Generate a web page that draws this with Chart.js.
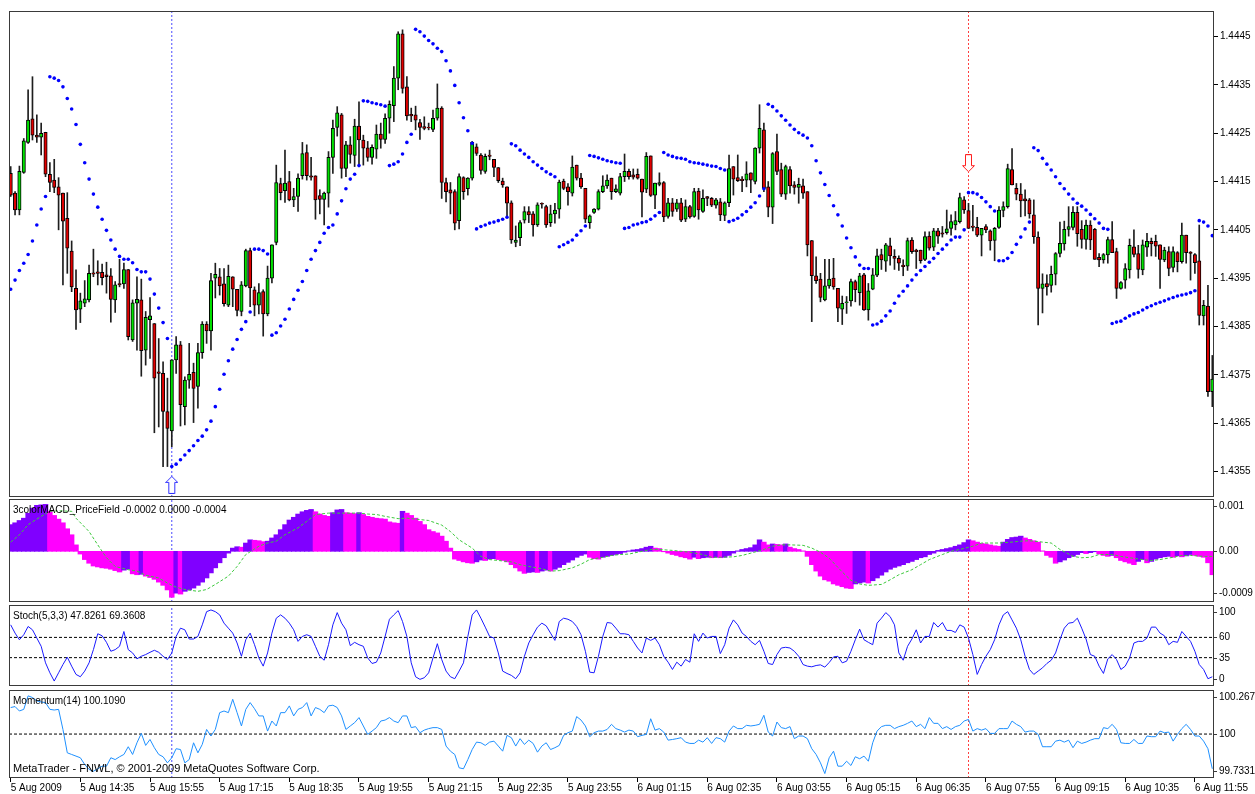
<!DOCTYPE html>
<html>
<head>
<meta charset="utf-8">
<title>EURUSD,M5</title>
<script src="https://cdn.jsdelivr.net/npm/chart.js@4.4.1/dist/chart.umd.min.js"></script>
<style>
  html, body { margin: 0; padding: 0; background: #fff; }
  #wrap { position: relative; width: 1255px; height: 794px; overflow: hidden; }
  #wrap canvas { position: absolute; left: 0; }
</style>
</head>
<body>
<div id="wrap">
  <canvas id="price" width="1255" height="504" style="top:0"></canvas>
  <canvas id="macdPane" width="1255" height="105" style="top:498px"></canvas>
  <canvas id="stochPane" width="1255" height="85" style="top:603px"></canvas>
  <canvas id="momPane" width="1255" height="106" style="top:688px"></canvas>
</div>
<script>
// M5 bars, 5 Aug 2009 13:15 -> 6 Aug 2009 12:15 (bar 1 .. bar 277)
const open = [
1.44167,1.44126,1.44091,1.44169,1.44231,1.4428,1.44246,1.44242,1.44252,1.44165,
1.44153,1.44139,1.44126,1.44074,1.44006,1.43929,1.43886,1.43898,1.43905,1.43961,
1.43963,1.43962,1.43957,1.43955,1.43905,1.43939,1.43938,1.43968,1.43822,1.43898,
1.43905,1.43801,1.43864,1.43856,1.43756,1.43753,1.43674,1.43634,1.43781,1.43812,
1.43684,1.43739,1.43755,1.43726,1.43796,1.43855,1.43841,1.4395,1.43953,1.43938,
1.43894,1.43953,1.43927,1.43881,1.43934,1.44007,1.43926,1.43894,1.43922,1.43876,
1.4395,1.44024,1.44146,1.44131,1.4415,1.44112,1.44119,1.44162,1.4421,1.44162,
1.44162,1.44121,1.44113,1.44126,1.442,1.44262,1.44288,1.44177,1.44226,1.44204,
1.44265,1.44236,1.4422,1.442,1.44217,1.44248,1.44237,1.44281,1.44307,1.44364,
1.44456,1.44346,1.44289,1.44288,1.44272,1.44264,1.44262,1.44258,1.44281,1.44302,
1.44148,1.44133,1.44129,1.44069,1.44158,1.44135,1.44157,1.44222,1.44205,1.44171,
1.44205,1.44196,1.44179,1.44151,1.44139,1.44106,1.44024,1.44034,1.4407,1.44088,
1.44083,1.4406,1.44105,1.44098,1.44065,1.44083,1.44093,1.44151,1.44139,1.44126,
1.44184,1.44157,1.44136,1.44065,1.44086,1.44093,1.44129,1.44141,1.44157,1.44129,
1.44126,1.4416,1.44171,1.44164,1.44165,1.44155,1.44134,1.44203,1.44122,1.44144,
1.44148,1.44078,1.44106,1.44093,1.44106,1.44072,1.44098,1.44078,1.4413,1.44088,
1.44119,1.44115,1.44101,1.44108,1.4408,1.44106,1.44181,1.44158,1.44155,1.44153,
1.44168,1.4415,1.44219,1.44257,1.44139,1.44097,1.44212,1.44175,1.44124,1.44175,
1.44143,1.44138,1.44141,1.44129,1.44028,1.43955,1.43948,1.43905,1.43934,1.4395,
1.43929,1.43886,1.43899,1.43903,1.43943,1.4392,1.43957,1.43884,1.43927,1.43956,
1.43999,1.43985,1.44017,1.43995,1.43991,1.43977,1.43975,1.44029,1.44008,1.44008,
1.43989,1.44037,1.44014,1.44048,1.44044,1.44044,1.44053,1.4406,1.44067,1.44112,
1.4409,1.44058,1.44055,1.44039,1.44057,1.44048,1.44028,1.44055,1.4409,1.44098,
1.44175,1.44136,1.44124,1.44114,1.44112,1.44081,1.44035,1.43929,1.43939,1.43935,
1.43958,1.44001,1.44021,1.44051,1.44055,1.44086,1.44051,1.4403,1.4406,1.44051,
1.43993,1.43988,1.43998,1.4403,1.44005,1.43929,1.43946,1.43967,1.44015,1.44001,
1.43967,1.44014,1.44026,1.44026,1.44019,1.43988,1.44005,1.43972,1.44003,1.43984,
1.44039,1.44004,1.43999,1.43986,1.43872,1.43892,1.43715];
const high = [
1.44181,1.44129,1.44182,1.44239,1.4434,1.44367,1.44288,1.44271,1.44252,1.44189,
1.44196,1.44158,1.44126,1.44127,1.44027,1.43967,1.43919,1.43945,1.43977,1.4401,
1.43986,1.43979,1.43983,1.4397,1.43943,1.43989,1.43981,1.43968,1.43905,1.43953,
1.43948,1.43881,1.4391,1.43856,1.43825,1.43777,1.43743,1.43781,1.43829,1.43819,
1.43746,1.43815,1.43774,1.43815,1.4386,1.4386,1.4396,1.43981,1.4397,1.4397,
1.43977,1.43953,1.43927,1.43943,1.4401,1.44012,1.43932,1.43939,1.43926,1.43975,
1.44019,1.44184,1.44157,1.44215,1.44171,1.44136,1.44166,1.44231,1.44226,1.442,
1.44162,1.44133,1.44128,1.44212,1.44277,1.44305,1.44291,1.44233,1.44243,1.44279,
1.44315,1.44246,1.44233,1.44226,1.44267,1.44271,1.4429,1.44317,1.44388,1.4446,
1.44464,1.44367,1.44302,1.44306,1.44279,1.44284,1.44271,1.44298,1.44352,1.44305,
1.44157,1.44148,1.44133,1.44166,1.4416,1.44158,1.44233,1.44228,1.44208,1.44207,
1.44215,1.44196,1.44179,1.44157,1.44139,1.4411,1.44058,1.44069,1.44098,1.44098,
1.44088,1.44106,1.44106,1.44101,1.44101,1.44105,1.44153,1.44155,1.44146,1.44203,
1.44184,1.44167,1.44136,1.44081,1.44094,1.44133,1.44162,1.44164,1.44157,1.44143,
1.44167,1.44207,1.44176,1.44176,1.44176,1.44155,1.4421,1.44203,1.44147,1.44168,
1.4415,1.44115,1.44115,1.44113,1.44115,1.44112,1.44101,1.44136,1.44136,1.44133,
1.44119,1.44117,1.44115,1.44115,1.44108,1.44205,1.44181,1.44205,1.4416,1.44191,
1.44168,1.4422,1.44309,1.44271,1.4415,1.4421,1.44248,1.44188,1.44184,1.44181,
1.4415,1.44157,1.44155,1.44129,1.44028,1.43994,1.4396,1.43989,1.43989,1.43991,
1.43929,1.43913,1.43912,1.43948,1.43946,1.4396,1.4396,1.43939,1.4397,1.4401,
1.4401,1.44022,1.44033,1.44009,1.43996,1.43988,1.44033,1.44034,1.4401,1.44008,
1.44046,1.44046,1.44053,1.44053,1.44057,1.44091,1.44081,1.44088,1.44126,1.44119,
1.44105,1.44101,1.44076,1.44053,1.44061,1.4405,1.44055,1.44098,1.44108,1.44186,
1.44218,1.44146,1.44146,1.44133,1.44115,1.44112,1.44046,1.43959,1.43957,1.43975,
1.44003,1.44066,1.44068,1.44098,1.44098,1.44098,1.44069,1.4407,1.44069,1.44053,
1.44001,1.44001,1.44035,1.44067,1.44012,1.43943,1.4398,1.44031,1.4405,1.44018,
1.44029,1.44043,1.44033,1.44039,1.44019,1.44014,1.44015,1.44015,1.44005,1.44064,
1.44039,1.44005,1.44001,1.4406,1.43904,1.43935,1.4379];
const low = [
1.44119,1.44081,1.44081,1.44167,1.44229,1.44236,1.44231,1.44205,1.4416,1.44129,
1.44127,1.4405,1.43936,1.4396,1.43922,1.43844,1.43858,1.43891,1.43901,1.43953,
1.43936,1.43936,1.43919,1.43859,1.43879,1.43932,1.43929,1.43822,1.43819,1.43801,
1.43747,1.4377,1.43784,1.4363,1.43642,1.4356,1.4356,1.43601,1.43753,1.43644,
1.43646,1.43722,1.43651,1.43681,1.43784,1.43815,1.43801,1.43909,1.43915,1.43892,
1.43891,1.43891,1.43872,1.43872,1.43932,1.43891,1.43872,1.43876,1.4383,1.43872,
1.4394,1.44019,1.44112,1.44107,1.4411,1.44098,1.44088,1.44155,1.44153,1.44153,
1.44072,1.44083,1.4406,1.44097,1.44167,1.44244,1.44157,1.4416,1.44188,1.44181,
1.44181,1.44184,1.44192,1.44186,1.44198,1.44219,1.44229,1.4425,1.44274,1.4434,
1.44333,1.44277,1.44274,1.44257,1.44237,1.44257,1.44257,1.44253,1.44277,1.44115,
1.44108,1.44083,1.4405,1.44052,1.44113,1.44122,1.44153,1.44204,1.44165,1.44167,
1.44195,1.4416,1.44148,1.44138,1.44077,1.44022,1.44015,1.44017,1.44064,1.44065,
1.44037,1.44057,1.44095,1.44055,1.44057,1.44064,1.44074,1.44133,1.44101,1.4412,
1.44153,1.44136,1.44065,1.44053,1.44084,1.44091,1.44127,1.44136,1.44113,1.44127,
1.44122,1.4415,1.44155,1.44155,1.44155,1.44077,1.44127,1.44119,1.44094,1.44141,
1.44067,1.44074,1.44078,1.44088,1.44067,1.44067,1.44074,1.44076,1.44072,1.44086,
1.441,1.44098,1.44095,1.44069,1.44069,1.44098,1.44122,1.4415,1.44129,1.44139,
1.44127,1.44145,1.44209,1.44129,1.44077,1.44063,1.44164,1.44119,1.44113,1.44126,
1.44124,1.44105,1.44115,1.43996,1.4386,1.43939,1.43901,1.43903,1.43929,1.43927,
1.4386,1.43854,1.43877,1.43892,1.43901,1.43894,1.43883,1.43863,1.43926,1.43953,
1.43968,1.43964,1.43977,1.43968,1.43966,1.43955,1.43966,1.44001,1.4397,1.43981,
1.43986,1.44008,1.44007,1.44022,1.44035,1.44041,1.44039,1.4405,1.44064,1.44084,
1.44053,1.44048,1.44036,1.43996,1.44044,1.44008,1.43986,1.44053,1.44077,1.44095,
1.44143,1.44112,1.44077,1.44079,1.44074,1.44022,1.43853,1.43878,1.43915,1.43921,
1.43936,1.43994,1.44008,1.44037,1.4405,1.44016,1.44012,1.4401,1.44009,1.43989,
1.43974,1.43981,1.43981,1.44003,1.43908,1.43927,1.43929,1.4395,1.43994,1.4395,
1.43957,1.43995,1.43996,1.43995,1.43929,1.43984,1.43955,1.43963,1.43963,1.43981,
1.43981,1.43946,1.4396,1.43853,1.43853,1.43705,1.43684];
const close = [
1.44122,1.44091,1.44171,1.44234,1.44277,1.44246,1.44242,1.4425,1.44165,1.44148,
1.44138,1.44122,1.44068,1.44012,1.43932,1.43884,1.43903,1.43907,1.4396,1.43958,
1.4396,1.43951,1.43953,1.43906,1.43936,1.43936,1.43968,1.43829,1.43899,1.43906,
1.438,1.43869,1.43872,1.43743,1.43753,1.43674,1.43639,1.43781,1.43812,1.43688,
1.43739,1.43751,1.43722,1.43796,1.43855,1.43841,1.43945,1.43958,1.43934,1.43897,
1.43954,1.43927,1.43883,1.43936,1.44007,1.4393,1.43894,1.4392,1.43876,1.4395,
1.44019,1.44148,1.44127,1.44147,1.44112,1.44119,1.44157,1.44208,1.44162,1.44159,
1.44112,1.44113,1.44126,1.442,1.4426,1.44292,1.44177,1.44226,1.44206,1.44265,
1.44236,1.44219,1.442,1.44221,1.44248,1.44237,1.44281,1.4431,1.44364,1.44456,
1.44343,1.44286,1.44286,1.44277,1.44262,1.4426,1.44261,1.44281,1.44302,1.44148,
1.44129,1.44126,1.44064,1.4416,1.44129,1.44157,1.44231,1.44208,1.44173,1.44202,
1.44202,1.44179,1.44152,1.44143,1.44105,1.44029,1.44029,1.44065,1.44088,1.44081,
1.4406,1.44102,1.44103,1.4406,1.44083,1.44091,1.44149,1.44136,1.44129,1.4418,
1.44157,1.44139,1.44072,1.44079,1.44093,1.44129,1.44141,1.44153,1.44129,1.44135,
1.4416,1.44171,1.4416,1.44159,1.44157,1.44128,1.44202,1.44121,1.44147,1.44148,
1.44077,1.44106,1.44088,1.44106,1.4407,1.44098,1.44077,1.44129,1.44091,1.44115,
1.44115,1.44101,1.44112,1.44081,1.44106,1.44177,1.44155,1.44152,1.44152,1.44166,
1.44153,1.44219,1.4426,1.44136,1.44097,1.44208,1.44171,1.44124,1.44181,1.44141,
1.44138,1.44144,1.44126,1.44019,1.43955,1.43945,1.4391,1.43934,1.43948,1.43932,
1.43888,1.43898,1.43901,1.43943,1.43926,1.43955,1.43884,1.43924,1.43957,1.43996,
1.43988,1.44019,1.43996,1.43991,1.43981,1.43974,1.44028,1.44005,1.44005,1.43986,
1.44036,1.44012,1.44048,1.44037,1.44041,1.44052,1.44067,1.44069,1.44117,1.44091,
1.44053,1.44055,1.44039,1.44053,1.4405,1.44027,1.44053,1.44091,1.44098,1.44177,
1.44143,1.44124,1.4411,1.4411,1.44083,1.44036,1.43929,1.43938,1.43932,1.43958,
1.44001,1.44022,1.44051,1.44057,1.44086,1.44042,1.4403,1.4406,1.44029,1.43989,
1.43988,1.43999,1.4403,1.44003,1.43929,1.43941,1.4397,1.44018,1.43999,1.43968,
1.44019,1.44026,1.44021,1.44016,1.43989,1.44008,1.4397,1.44005,1.43984,1.44039,
1.44003,1.44001,1.43982,1.43873,1.43894,1.43715,1.43741];
// Parabolic SAR, one dot per bar
const sar = [
1.43927,1.43946,1.43966,1.43981,1.43999,1.44027,1.4406,1.44093,1.44119,1.44367,
1.44364,1.44359,1.44346,1.44322,1.443,1.44268,1.44227,1.44189,1.44155,1.44124,
1.44097,1.44072,1.44049,1.44029,1.4401,1.43995,1.43989,1.43989,1.43982,1.43968,
1.43963,1.43963,1.43948,1.43917,1.43888,1.43858,1.43825,1.4356,1.43565,1.43574,
1.43584,1.43593,1.43603,1.43614,1.43623,1.43636,1.43654,1.43684,1.4372,1.43751,
1.43779,1.43803,1.43823,1.43844,1.4386,1.4388,1.4401,1.4401,1.44007,1.44,
1.43832,1.43837,1.43851,1.43865,1.43886,1.43906,1.43925,1.43943,1.43966,1.43989,
1.44007,1.44024,1.44043,1.44055,1.4406,1.44083,1.4411,1.44135,1.44155,1.44165,
1.44183,1.44317,1.44316,1.44313,1.44311,1.44309,1.44306,1.44183,1.44186,1.44191,
1.44207,1.44231,1.44248,1.44465,1.4446,1.44451,1.44442,1.44435,1.44426,1.44419,
1.444,1.44379,1.44349,1.44313,1.44282,1.44255,1.44229,1.44052,1.44057,1.4406,
1.44064,1.44066,1.44069,1.44072,1.44076,1.44228,1.44224,1.44215,1.44207,1.442,
1.44191,1.44184,1.44177,1.4417,1.44165,1.4416,1.44015,1.44019,1.44024,1.44029,
1.44039,1.44048,1.44058,1.44204,1.44202,1.44199,1.44196,1.44193,1.44191,1.44189,
1.44188,1.44053,1.44055,1.4406,1.44062,1.44065,1.44067,1.44072,1.44079,1.44086,
1.4421,1.44205,1.44202,1.44199,1.44198,1.44196,1.44191,1.44189,1.44188,1.44186,
1.44184,1.44182,1.44181,1.44177,1.44174,1.44067,1.4407,1.44074,1.44081,1.44088,
1.44097,1.44106,1.4412,1.44135,1.4431,1.44305,1.44296,1.44286,1.44277,1.44267,
1.44258,1.44251,1.44246,1.4424,1.44224,1.44193,1.44168,1.44144,1.44121,1.441,
1.44081,1.44058,1.44033,1.44013,1.43994,1.43977,1.4397,1.4397,1.43853,1.43855,
1.43861,1.43872,1.43882,1.43898,1.43913,1.43923,1.43934,1.43946,1.43957,1.43966,
1.43974,1.43983,1.43991,1.44001,1.4401,1.44019,1.44029,1.44035,1.44035,1.4405,
1.44127,1.44127,1.44124,1.44117,1.44108,1.44098,1.44089,1.43986,1.43986,1.43991,
1.44003,1.4402,1.44035,1.44052,1.44066,1.4422,1.44214,1.44198,1.44186,1.44174,
1.4416,1.44146,1.44135,1.44124,1.44114,1.44105,1.44099,1.44091,1.44082,1.44073,
1.44064,1.44053,1.44051,1.43856,1.43859,1.43861,1.43867,1.43872,1.43876,1.43879,
1.43884,1.43889,1.43893,1.43897,1.439,1.43903,1.43907,1.4391,1.43913,1.43915,
1.43917,1.4392,1.43924,1.44069,1.44066,1.44058,1.44038];
// 3colorMACD main value per bar
const macd = [
0.00058,0.00062,0.00067,0.00072,0.00083,0.00094,0.001,0.00101,0.00102,0.00087,
0.00078,0.0007,0.00062,0.00049,0.00036,0.00014,-0.00006,-0.00018,-0.00026,-0.00032,
-0.00034,-0.00036,-0.00037,-0.00039,-0.00042,-0.00045,-0.00041,-0.00039,-0.00049,-0.00051,
-0.0005,-0.00054,-0.00057,-0.00061,-0.00067,-0.00074,-0.00084,-0.001,-0.00091,-0.00093,
-0.00087,-0.00084,-0.0008,-0.00074,-0.00067,-0.00058,-0.00047,-0.00036,-0.00025,-0.00014,
-0.00004,0.00007,0.0001,0.00009,0.00018,0.00025,0.00024,0.00023,0.00021,0.00022,
0.00029,0.00036,0.00047,0.00058,0.00068,0.00074,0.00081,0.00086,0.00089,0.00091,
0.00086,0.00081,0.00078,0.00076,0.00084,0.0009,0.00091,0.00084,0.00083,0.00082,
0.00084,0.0008,0.00076,0.00074,0.00072,0.00071,0.0007,0.00064,0.00062,0.00061,
0.00087,0.00083,0.00078,0.00072,0.00065,0.00058,0.00047,0.00043,0.0004,0.00033,
0.00022,0.00007,-0.00017,-0.0002,-0.00023,-0.00025,-0.00026,-0.00023,-0.00019,-0.0002,
-0.00017,-0.00016,-0.00018,-0.0002,-0.00023,-0.00029,-0.00036,-0.00043,-0.00048,-0.00046,
-0.00045,-0.00046,-0.00043,-0.00041,-0.00043,-0.00039,-0.00035,-0.00029,-0.00024,-0.00019,
-0.00013,-0.00009,-0.00006,-0.00013,-0.00016,-0.00017,-0.00013,-0.00011,-0.00009,-0.00007,
-0.00005,-0.00002,0.00001,0.00003,0.00004,0.00006,0.00009,0.00011,0.00007,0.00006,
-0.00001,-0.00004,-0.00007,-0.00009,-0.00012,-0.00014,-0.00017,-0.00013,-0.00016,-0.00014,
-0.00013,-0.00014,-0.00013,-0.00014,-0.00013,-0.00009,-0.00004,0.00001,0.00004,0.00006,
0.00008,0.00014,0.00025,0.0002,0.00014,0.00016,0.00015,0.00014,0.00016,0.00009,
0.00006,0.00004,0.00001,-0.00011,-0.00029,-0.00043,-0.00054,-0.00062,-0.00065,-0.00071,
-0.00074,-0.00077,-0.0008,-0.00081,-0.00071,-0.00069,-0.00067,-0.00069,-0.00064,-0.00058,
-0.00052,-0.00045,-0.00039,-0.00035,-0.00032,-0.00029,-0.00025,-0.00022,-0.00018,-0.00014,
-0.00012,-0.00007,-0.00004,0.00002,0.00004,0.00006,0.00008,0.00011,0.00014,0.00019,
0.00025,0.00023,0.0002,0.00017,0.00016,0.00014,0.00012,0.00011,0.0002,0.00026,
0.0003,0.00031,0.00033,0.00029,0.00026,0.00023,0.0002,0.00001,-0.00009,-0.00013,
-0.00026,-0.00023,-0.00019,-0.00014,-0.00011,-0.00007,-0.00003,-0.00005,-0.00003,-0.00001,
-0.00006,-0.00009,-0.00011,-0.00009,-0.00014,-0.0002,-0.00023,-0.00026,-0.00029,-0.00022,
-0.00018,-0.00025,-0.00022,-0.00017,-0.00014,-0.00012,-0.00011,-0.00013,-0.0001,-0.00012,
-0.0001,-0.00007,-0.00009,-0.00011,-0.00013,-0.00025,-0.00051];
// MACD signal line, read at these bars
const signalBar = [1,3,5,8,10,12,15,16,19,21,23,25,28,30,32,35,37,39,41,44,46,48,51,53,55,58,60,62,64,67,69,71,74,76,78,81,83,85,87,90,92,
97,100,102,104,107,109,111,113,116,118,120,123,125,127,130,132,134,137,139,141,143,146,148,150,153,155,157,160,162,164,167,169,171,174,176,178,180,183,185,187,
189,192,194,196,198,201,203,205,208,210,212,215,217,219,222,224,226,228,231,233,235,238,240,242,245,247,249,251,254,256,258,261,263,265,268,270,272,275,277];
const signalValue = [0.0002,0.00036,0.00058,0.00076,0.00087,0.00088,0.00087,0.00072,0.00043,0.00014,-0.00014,-0.00033,-0.0004,-0.00043,-0.00052,-0.00058,-0.00069,-0.00078,-0.00083,-0.00087,-0.00083,-0.00072,-0.00054,-0.00033,-0.00007,0.00011,0.00018,0.00022,0.00036,0.00051,0.00065,0.0008,0.00083,0.00083,0.00083,0.00083,0.00081,0.0008,0.00076,0.00071,0.00072,
0.00067,0.00057,0.00043,0.00025,0.00007,-0.00011,-0.00018,-0.0002,-0.00023,-0.00029,-0.00033,-0.00038,-0.00043,-0.00042,-0.00036,-0.00028,-0.00018,-0.00013,-0.00009,-0.00007,-0.00006,0,0.00004,0.00004,0.00002,0,-0.00002,-0.00007,-0.00013,-0.00013,-0.00012,-0.00009,-0.00004,0.00004,0.00011,0.00014,0.00014,0.00013,0.00007,-0.00002,
-0.00015,-0.00045,-0.00063,-0.00071,-0.00074,-0.00072,-0.00062,-0.00051,-0.0004,-0.00029,-0.00018,-0.00007,0,0.00004,0.00011,0.00018,0.00018,0.00018,0.0002,0.00022,0.00023,0.0002,0.00018,0.00004,-0.00011,-0.00014,-0.00013,-0.00007,-0.00007,-0.00011,-0.00014,-0.00018,-0.0002,-0.00018,-0.00013,-0.00009,-0.00009,-0.00011,-0.00011];
// Stochastic(5,3,3) main line
const stoch = [
75.5,65.3,57.1,63.3,73.5,69.4,59.2,49.0,28.6,16.3,
6.1,16.3,26.5,35.5,24.5,14.3,11.4,18.4,28.6,44.9,
64.5,62.0,53.9,42.9,44.9,49.0,67.3,44.9,40.8,33.5,
36.7,38.8,41.6,44.1,41.6,36.7,32.7,40.8,61.2,71.4,
69.4,58.0,58.0,61.2,75.5,91.8,93.9,91.8,87.8,77.6,
71.4,65.3,53.1,36.7,57.1,65.3,51.0,34.7,24.5,40.8,
65.3,83.7,87.8,83.7,77.6,69.4,55.1,61.2,63.3,61.2,
49.0,36.7,31.8,51.0,75.5,90.6,77.6,69.4,49.8,53.9,
51.0,49.0,34.7,27.8,29.4,40.8,61.2,82.4,87.8,93.1,
79.6,61.2,28.6,11.4,8.2,10.2,16.3,34.7,52.2,32.7,
18.4,11.4,9.0,18.4,28.6,61.2,87.8,93.9,83.7,72.7,
61.2,59.2,40.8,18.4,15.5,13.1,9.0,16.3,36.7,53.1,
63.3,72.7,77.6,74.3,65.3,56.3,79.6,83.7,82.4,79.6,
73.5,63.3,42.9,17.1,16.3,36.7,61.2,78.4,77.6,71.4,
64.5,64.5,63.3,55.1,46.9,40.8,59.2,56.3,59.2,51.0,
36.7,29.4,20.4,29.4,24.5,32.7,29.4,64.5,55.1,65.3,
59.2,61.2,61.2,40.0,51.0,71.4,81.6,75.5,65.3,61.2,
55.1,51.0,56.3,42.9,27.8,26.5,38.8,46.9,47.8,46.9,
42.9,36.7,26.5,24.5,23.7,25.3,26.1,23.3,29.0,35.9,
36.7,28.6,30.6,42.9,57.1,70.2,57.1,53.9,51.0,77.6,
83.7,90.6,85.7,75.5,40.8,31.8,49.0,58.0,69.4,53.1,
61.2,61.2,78.4,72.7,78.4,68.6,68.6,66.1,75.5,72.7,
59.2,38.8,14.3,26.5,36.7,44.9,57.1,75.5,87.8,91.8,
81.6,71.4,57.1,36.7,20.4,14.3,18.4,22.4,27.8,31.8,
40.8,57.1,71.4,77.6,78.4,83.7,71.4,58.0,38.8,36.7,
24.5,15.5,33.5,38.8,32.7,20.4,24.5,34.7,53.1,55.1,
55.1,59.2,72.7,72.7,65.3,62.0,51.0,55.1,53.9,67.3,
61.2,55.1,42.9,26.5,20.4,9.0,11.4];
// Momentum(14)
const momentum = [
100.161,100.167,100.14,100.15,100.232,100.222,100.201,100.195,100.191,100.15,
100.146,100.15,100.028,99.886,99.876,99.866,99.856,99.815,99.785,99.774,
99.789,99.805,99.805,99.856,99.845,99.862,99.876,99.923,99.876,99.947,
100.004,99.931,99.967,99.917,99.876,99.862,99.825,99.856,99.911,99.906,
99.825,99.845,99.947,99.886,99.937,100.028,99.988,100.028,100.13,100.14,
100.13,100.211,100.13,100.049,100.15,100.191,100.154,100.11,100.11,100.018,
100.079,100.049,100.13,100.13,100.171,100.11,100.15,100.161,100.191,100.11,
100.161,100.15,100.13,100.171,100.175,100.161,100.11,100.028,100.049,100.069,
100.1,100.049,99.998,100.018,100.039,100.079,100.085,100.1,100.079,100.069,
100.11,100.11,100.039,100.045,100.008,100.024,100.033,100.039,100.039,100.028,
99.927,99.896,99.876,99.795,99.789,99.845,99.906,99.951,99.947,99.931,
99.951,99.957,99.927,99.896,99.992,99.978,99.927,99.972,99.937,99.963,
99.943,99.89,99.927,99.947,99.906,99.917,99.931,99.992,100.008,100.018,
100.106,100.085,100.049,99.984,100.008,100.018,100.018,100.028,100.059,100.033,
100.024,100.012,100.024,100.018,99.984,99.992,99.998,100.093,100.024,100.033,
100.012,99.963,99.967,99.972,99.978,99.951,99.943,99.943,99.963,99.951,
99.978,99.943,99.978,99.972,99.951,100.018,100.049,100.033,100.033,100.053,
100.049,100.053,100.059,100.114,100.012,99.988,100.073,100.039,100.033,100.045,
99.972,99.988,99.988,99.972,99.911,99.876,99.825,99.76,99.856,99.896,
99.805,99.805,99.835,99.809,99.862,99.85,99.866,99.835,99.947,100.018,
100.045,100.053,100.053,100.033,100.045,100.053,100.065,100.079,100.045,100.059,
100.033,100.1,100.065,100.065,100.033,100.045,100.028,100.045,100.053,100.079,
100.089,100.018,100.033,100.024,100.033,100.004,100.004,100.033,100.033,100.033,
100.079,100.059,100.045,100.012,100.018,100.018,99.998,99.923,99.923,99.923,
99.957,99.963,99.951,99.963,99.917,99.957,99.943,99.951,99.963,99.972,
99.972,100.039,100.033,100.059,100.028,99.947,99.943,99.943,99.967,99.943,
99.943,99.988,99.984,99.984,100.018,100.008,100.012,99.957,99.998,100.033,
100.059,100.028,99.988,99.988,99.957,99.911,99.789];

const upArrowBar = [38], upArrowPrice = [1.43522];
const downArrowBar = [221], downArrowPrice = [1.44188];

const tickBars = [1,17,33,49,65,81,97,113,129,145,161,177,193,209,225,241,257,273];
const tickLabels = ['5 Aug 2009','5 Aug 14:35','5 Aug 15:55','5 Aug 17:15','5 Aug 18:35','5 Aug 19:55',
  '5 Aug 21:15','5 Aug 22:35','5 Aug 23:55','6 Aug 01:15','6 Aug 02:35','6 Aug 03:55','6 Aug 05:15',
  '6 Aug 06:35','6 Aug 07:55','6 Aug 09:15','6 Aug 10:35','6 Aug 11:55'];
const priceTicks = [1.4355,1.4365,1.4375,1.4385,1.4395,1.4405,1.4415,1.4425,1.4435,1.4445];
const stochLevels = [60, 35];
const momLevel = [100];

const X_MIN = 0.61, X_MAX = 277.39;
const bars = open.map((_, i) => i + 1);

Chart.defaults.font.family = '"Liberation Sans", Arial, sans-serif';
Chart.defaults.font.size = 10;
Chart.defaults.color = '#000';

// frame around each pane, pane caption and right-hand level labels
const paneFrame = {
  id: 'paneFrame',
  afterDraw(chart, args, opts) {
    const { ctx, chartArea: a } = chart;
    ctx.save();
    ctx.strokeStyle = '#3a3a3a';
    ctx.lineWidth = 1;
    const l = Math.round(a.left), t = Math.round(a.top);
    ctx.strokeRect(l + 0.5, t + 0.5, Math.round(a.right) - l - 1, Math.round(a.bottom) - t - 1);
    ctx.fillStyle = '#000';
    ctx.textBaseline = 'middle';
    ctx.font = '10px "Liberation Sans"';
    if (opts.title) ctx.fillText(opts.title, a.left + 4, a.top + 11);
    if (opts.levels) {
      const y = chart.scales.y;
      opts.levels.forEach(([v, txt]) => {
        const py = Math.round(Math.min(Math.max(y.getPixelForValue(v), a.top + 7), a.bottom - 7));
        ctx.fillText(txt, a.right + 5, py);
        ctx.beginPath();
        ctx.moveTo(a.right, py + 0.5);
        ctx.lineTo(a.right + 3, py + 0.5);
        ctx.stroke();
      });
    }
    if (opts.footer) {
      ctx.font = '11px "Liberation Sans"';
      ctx.fillText(opts.footer, a.left + 4, a.bottom - 9);
    }
    ctx.restore();
  }
};
Chart.register(paneFrame);

function xAxis(show) {
  const axis = {
    type: 'linear', min: X_MIN, max: X_MAX, offset: false, display: show,
    afterBuildTicks: s => { s.ticks = tickBars.map(v => ({ value: v })); },
    ticks: { autoSkip: false, maxRotation: 0, minRotation: 0, align: 'start', padding: 0,
             callback: (v, i) => tickLabels[i] },
    grid: { drawOnChartArea: false, tickLength: 4, color: '#000', offset: false },
    border: { display: false }
  };
  // only the bottom pane shows the time axis; fix its height there
  if (show) axis.afterFit = s => { s.height = 16; };
  return axis;
}

function plainY(min, max) {
  return {
    position: 'right', min, max,
    afterFit: s => { s.width = 41; },
    ticks: { display: false }, grid: { display: false }, border: { display: false }
  };
}

function markerLines(lo, hi) {
  return [
    { type: 'line', data: [{ x: upArrowBar[0], y: lo }, { x: upArrowBar[0], y: hi }],
      borderColor: '#4b4bff', borderWidth: 1, borderDash: [2, 2], pointRadius: 0, order: 9 },
    { type: 'line', data: [{ x: downArrowBar[0], y: lo }, { x: downArrowBar[0], y: hi }],
      borderColor: '#ff4040', borderWidth: 1, borderDash: [2, 2], pointRadius: 0, order: 9 }
  ];
}

function levelLine(v) {
  return { type: 'line', data: [{ x: X_MIN, y: v }, { x: X_MAX, y: v }],
    borderColor: '#000', borderWidth: 1, borderDash: [3, 2], pointRadius: 0, order: 8 };
}

function common(pad, frame, x, y) {
  return {
    responsive: false, animation: false, events: [],
    layout: { padding: pad },
    plugins: { legend: { display: false }, tooltip: { enabled: false }, paneFrame: frame },
    scales: { x, y }
  };
}

// hollow arrow used for the signal marks
function arrowImage(color, down) {
  const c = document.createElement('canvas');
  c.width = 13; c.height = 18;
  const g = c.getContext('2d');
  if (down) { g.translate(0, 18); g.scale(1, -1); }
  g.beginPath();
  g.moveTo(6.5, 0.5); g.lineTo(12.5, 6.5); g.lineTo(9.5, 6.5); g.lineTo(9.5, 17.5);
  g.lineTo(3.5, 17.5); g.lineTo(3.5, 6.5); g.lineTo(0.5, 6.5); g.closePath();
  g.fillStyle = '#fff'; g.fill();
  g.strokeStyle = color; g.lineWidth = 1; g.stroke();
  return c;
}

// price pane (canvas runs a few px under the MACD pane; the bottom padding
// absorbs the room Chart.js keeps for the last tick label)
const P_MIN = 1.43497, P_MAX = 1.44503;
new Chart(document.getElementById('price'), {
  type: 'bar',
  data: {
    datasets: [
      { type: 'line', data: bars.map(i => ({ x: i, y: sar[i - 1] })), showLine: false,
        pointRadius: 1.8, pointBorderWidth: 0, pointBackgroundColor: '#0000ff', order: 0 },
      { type: 'line', data: upArrowBar.map((b, k) => ({ x: b, y: upArrowPrice[k] })), showLine: false,
        pointStyle: arrowImage('#3030ff', false), order: -1 },
      { type: 'line', data: downArrowBar.map((b, k) => ({ x: b, y: downArrowPrice[k] })), showLine: false,
        pointStyle: arrowImage('#ff2020', true), order: -1 },
      { data: bars.map(i => ({ x: i, y: [open[i - 1], close[i - 1]] })),
        backgroundColor: bars.map(i => close[i - 1] > open[i - 1] ? '#00e000' : '#e00000'),
        borderColor: '#000', borderWidth: 1, borderSkipped: false, barThickness: 3.4, grouped: false, order: 1 },
      { data: bars.map(i => ({ x: i, y: [low[i - 1], high[i - 1]] })),
        backgroundColor: '#1e1e1e', borderWidth: 0, barThickness: 1, grouped: false, order: 2 },
      ...markerLines(P_MIN, P_MAX)
    ]
  },
  options: common({ left: 9, right: 0, top: 11, bottom: 7 }, {}, xAxis(false), {
    position: 'right', min: P_MIN, max: P_MAX,
    afterFit: s => { s.width = 41; s.paddingTop = 0; s.paddingBottom = 0; },
    afterBuildTicks: s => { s.ticks = priceTicks.map(v => ({ value: v })); },
    ticks: { padding: 2, font: { size: 10, lineHeight: 0.5 }, callback: v => v.toFixed(4) },
    grid: { drawOnChartArea: false, tickLength: 4, color: '#000' },
    border: { display: false }
  })
});

// MACD pane
const M_MIN = -0.001102, M_MAX = 0.001137;
new Chart(document.getElementById('macdPane'), {
  type: 'bar',
  data: {
    datasets: [
      { type: 'line', data: signalBar.map((b, k) => ({ x: b, y: signalValue[k] })),
        borderColor: '#3cc83c', borderWidth: 1, borderDash: [3, 2], pointRadius: 0, order: 0 },
      { data: bars.map(i => ({ x: i, y: macd[i - 1] })),
        backgroundColor: macd.map((v, k) => (k === 0 || v >= macd[k - 1]) ? '#8000ff' : '#ff00ff'),
        borderWidth: 0, barThickness: 4.8, grouped: false, order: 1 },
      ...markerLines(M_MIN, M_MAX)
    ]
  },
  options: common({ left: 9, right: 0, top: 1, bottom: 1 },
    { title: '3colorMACD_PriceField -0.0002 0.0000 -0.0004',
      levels: [[0.001, '0.001'], [0, '0.00'], [-0.0009, '-0.0009']] },
    xAxis(false), plainY(M_MIN, M_MAX))
});

// Stochastic pane
new Chart(document.getElementById('stochPane'), {
  type: 'line',
  data: {
    datasets: [
      { data: bars.map(i => ({ x: i, y: stoch[i - 1] })), borderColor: '#1a1aff', borderWidth: 1,
        pointRadius: 0, tension: 0, order: 0 },
      ...stochLevels.map(levelLine),
      ...markerLines(0, 100)
    ]
  },
  options: common({ left: 9, right: 0, top: 2, bottom: 2 },
    { title: 'Stoch(5,3,3) 47.8261 69.3608',
      levels: [[100, '100'], [60, '60'], [35, '35'], [0, '0']] },
    xAxis(false), plainY(0, 100))
});

// Momentum pane, carries the time axis
const MO_MIN = 99.7331, MO_MAX = 100.2675;
new Chart(document.getElementById('momPane'), {
  type: 'line',
  data: {
    datasets: [
      { data: bars.map(i => ({ x: i, y: momentum[i - 1] })), borderColor: '#1e90ff', borderWidth: 1,
        pointRadius: 0, tension: 0, order: 0 },
      ...momLevel.map(levelLine),
      ...markerLines(MO_MIN, MO_MAX)
    ]
  },
  options: common({ left: 9, right: 0, top: 2, bottom: 0 },
    { title: 'Momentum(14) 100.1090',
      footer: 'MetaTrader - FNWL, \u00a9 2001-2009 MetaQuotes Software Corp.',
      levels: [[MO_MAX, '100.2675'], [100, '100'], [MO_MIN, '99.7331']] },
    xAxis(true), plainY(MO_MIN, MO_MAX))
});
</script>
</body>
</html>
